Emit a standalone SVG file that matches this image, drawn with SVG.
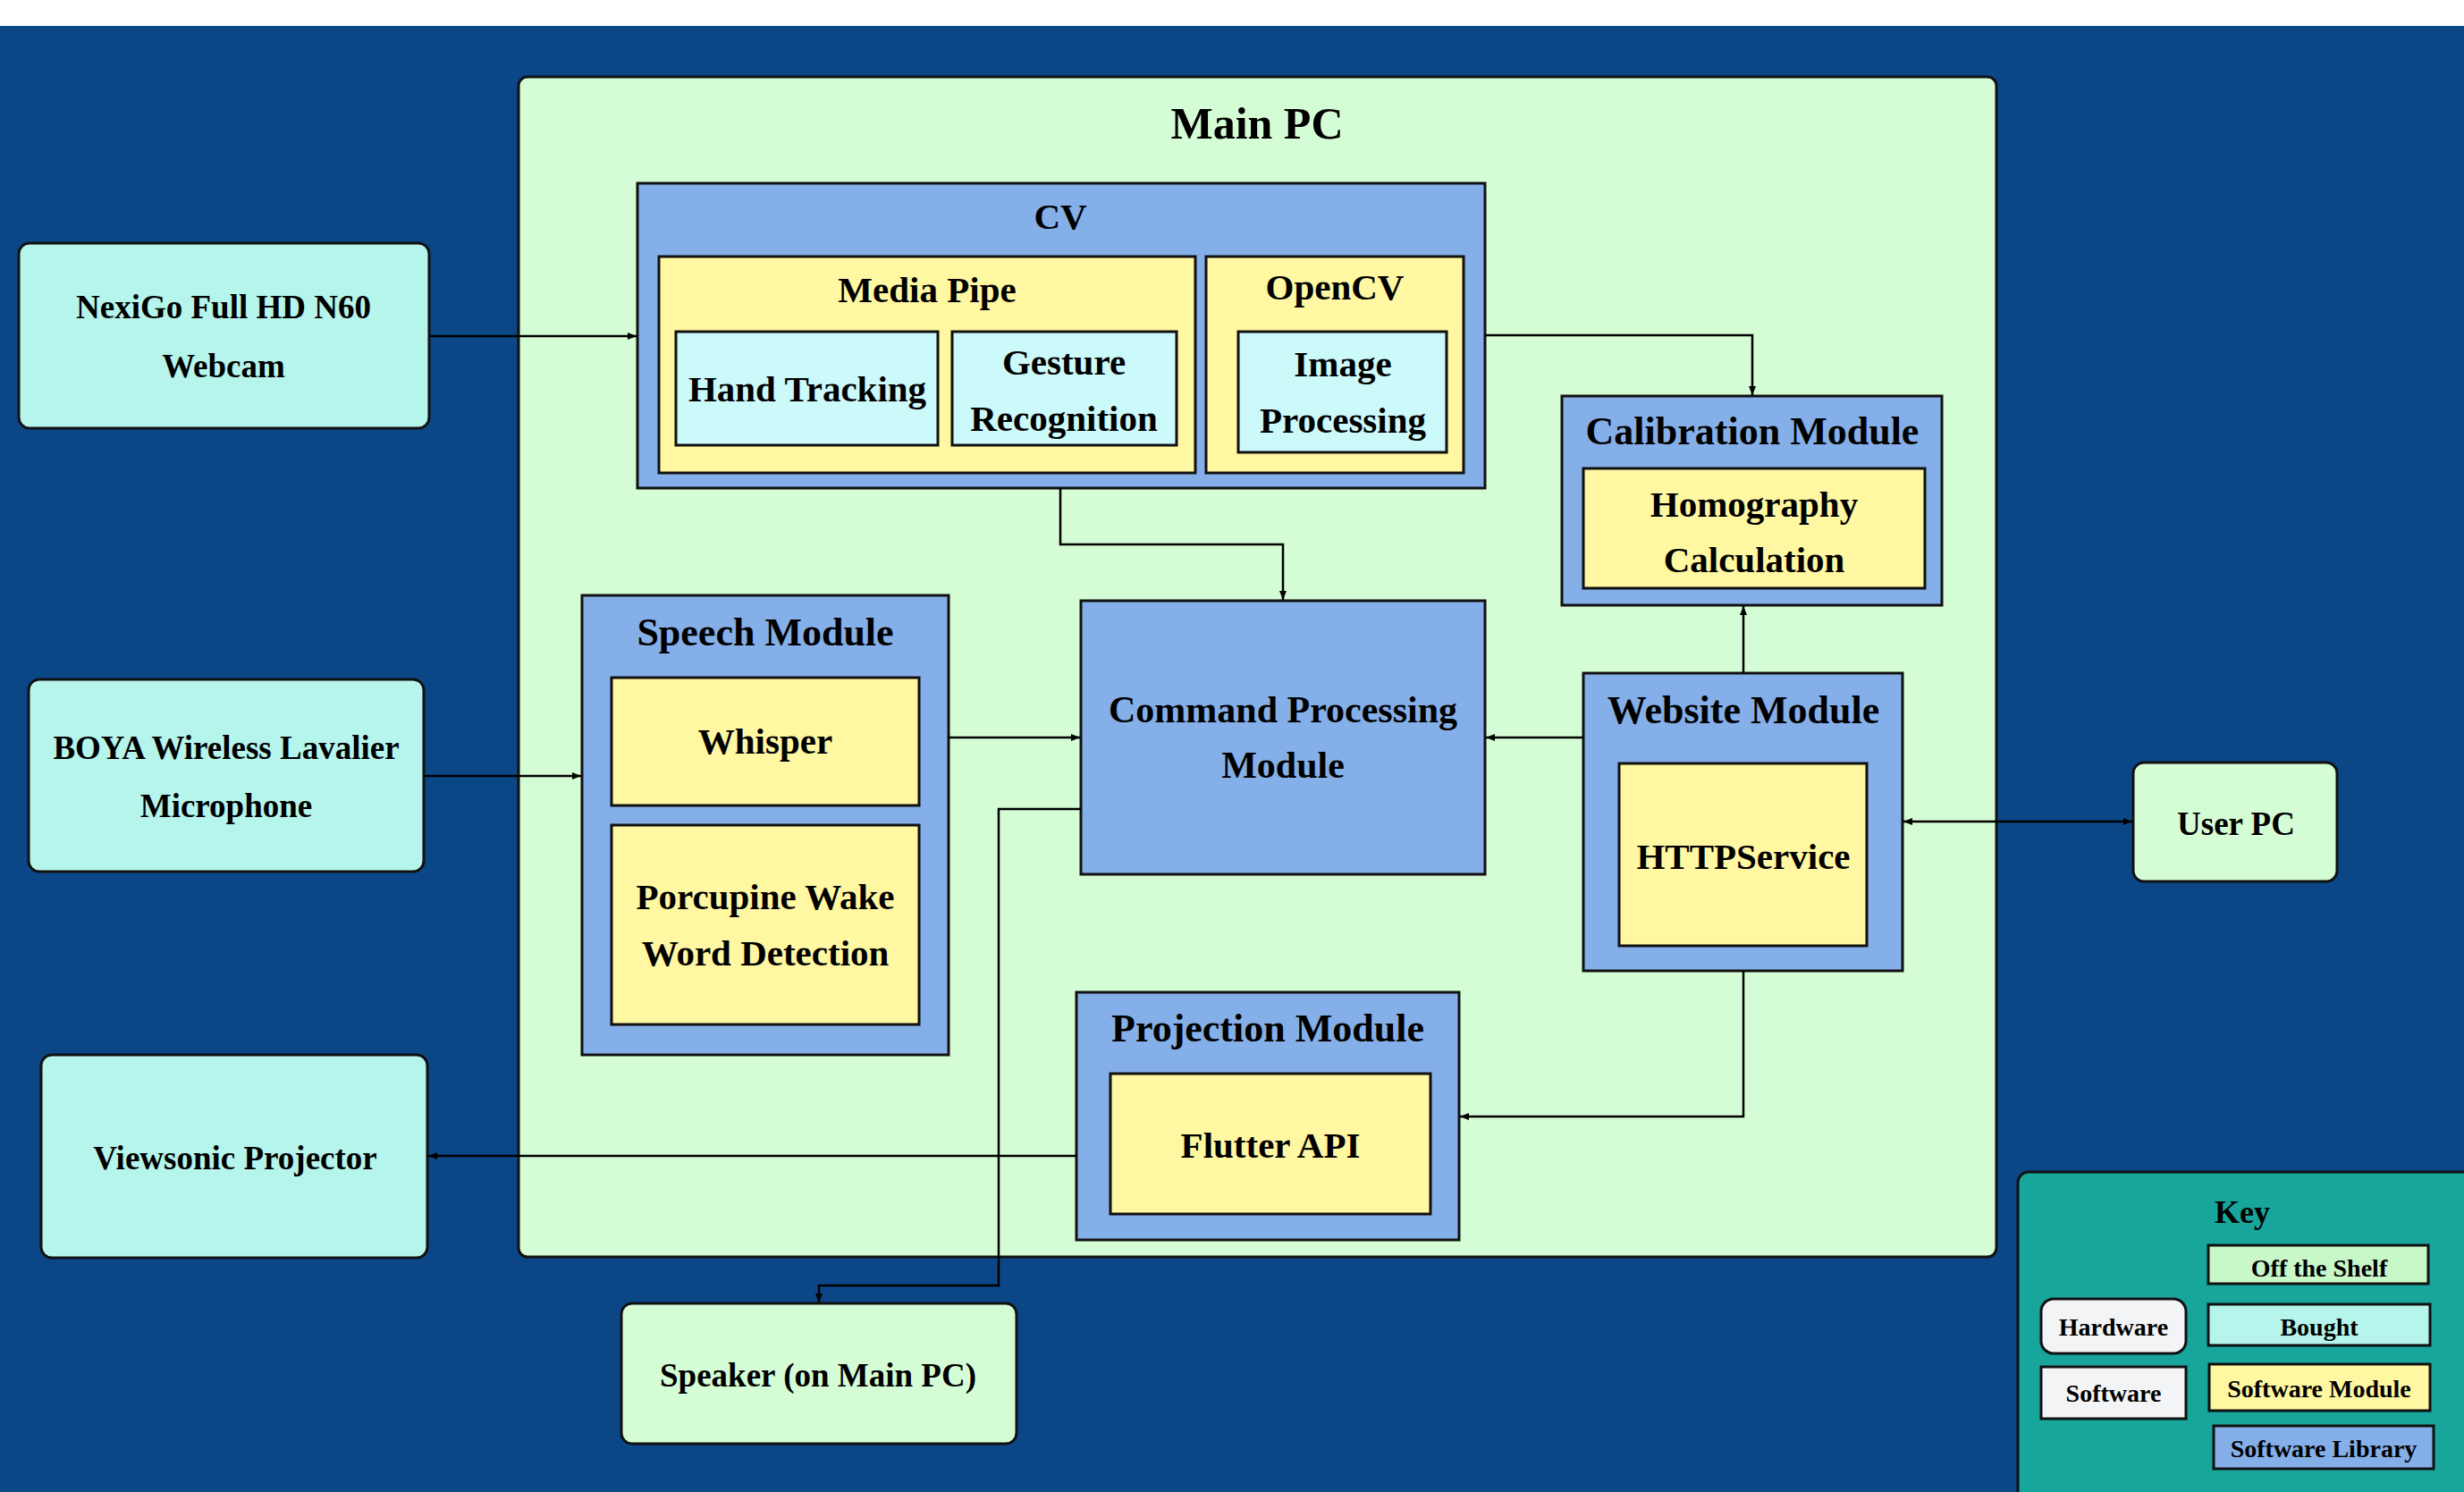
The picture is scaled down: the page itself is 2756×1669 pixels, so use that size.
<svg xmlns="http://www.w3.org/2000/svg" width="2756" height="1669" viewBox="0 0 2756 1669">
<defs>
<style>
text{font-family:"Liberation Serif","DejaVu Serif",serif;font-weight:bold;fill:#000;text-anchor:middle}
.box{stroke:#111;stroke-width:3}
.green{fill:#D5FDD5}
.lib{fill:#85AFE8}
.mod{fill:#FFF7A1}
.inner{fill:#CCF9FA}
.bought{fill:#B5F5EB}
.soft{fill:#F3F4F6}
.t50{font-size:50px}
.t44{font-size:44px}
.t42{font-size:42px}
.t41{font-size:41px}
.t37{font-size:37px}
.t27{font-size:28px}
.conn{fill:none;stroke:#000;stroke-width:2.5}
</style>
<marker id="arr" viewBox="0 0 10 8" refX="10" refY="4" markerWidth="10" markerHeight="8" markerUnits="userSpaceOnUse" orient="auto-start-reverse">
<path d="M0,0 L10,4 L0,8 z" fill="#000"/>
</marker>
</defs>

<rect x="0" y="0" width="2756" height="1669" fill="#FFFFFF"/>
<rect x="0" y="29" width="2756" height="1640" fill="#0B4787"/>

<g id="main-pc">
<rect class="box green" x="580" y="86" width="1653" height="1320" rx="10"/>
<text class="t50" x="1406" y="155">Main PC</text>
</g>

<g id="cv">
<rect class="box lib" x="713" y="205" width="948" height="341"/>
<text class="t41" x="1186" y="256">CV</text>
</g>
<g id="media-pipe">
<rect class="box mod" x="737" y="287" width="600" height="242"/>
<text class="t41" x="1037" y="338">Media Pipe</text>
</g>
<g id="hand-tracking">
<rect class="box inner" x="756" y="371" width="293" height="127"/>
<text class="t41" x="903" y="449">Hand Tracking</text>
</g>
<g id="gesture-recognition">
<rect class="box inner" x="1065" y="371" width="251" height="127"/>
<text class="t41" x="1190" y="419">Gesture</text>
<text class="t41" x="1190" y="482">Recognition</text>
</g>
<g id="opencv">
<rect class="box mod" x="1349" y="287" width="288" height="242"/>
<text class="t41" x="1493" y="335">OpenCV</text>
</g>
<g id="image-processing">
<rect class="box inner" x="1385" y="371" width="233" height="135"/>
<text class="t41" x="1502" y="421">Image</text>
<text class="t41" x="1502" y="484">Processing</text>
</g>

<g id="calibration-module">
<rect class="box lib" x="1747" y="443" width="425" height="234"/>
<text class="t44" x="1960" y="497">Calibration Module</text>
</g>
<g id="homography">
<rect class="box mod" x="1771" y="524" width="382" height="134"/>
<text class="t41" x="1962" y="578">Homography</text>
<text class="t41" x="1962" y="640">Calculation</text>
</g>

<g id="speech-module">
<rect class="box lib" x="651" y="666" width="410" height="514"/>
<text class="t44" x="856" y="722">Speech Module</text>
</g>
<g id="whisper">
<rect class="box mod" x="684" y="758" width="344" height="143"/>
<text class="t41" x="856" y="843">Whisper</text>
</g>
<g id="porcupine">
<rect class="box mod" x="684" y="923" width="344" height="223"/>
<text class="t41" x="856" y="1017">Porcupine Wake</text>
<text class="t41" x="856" y="1080">Word Detection</text>
</g>

<g id="command-processing">
<rect class="box lib" x="1209" y="672" width="452" height="306"/>
<text class="t42" x="1435" y="808">Command Processing</text>
<text class="t42" x="1435" y="870">Module</text>
</g>

<g id="website-module">
<rect class="box lib" x="1771" y="753" width="357" height="333"/>
<text class="t44" x="1950" y="809">Website Module</text>
</g>
<g id="httpservice">
<rect class="box mod" x="1811" y="854" width="277" height="204"/>
<text class="t41" x="1950" y="972">HTTPService</text>
</g>

<g id="projection-module">
<rect class="box lib" x="1204" y="1110" width="428" height="277"/>
<text class="t44" x="1418" y="1165">Projection Module</text>
</g>
<g id="flutter-api">
<rect class="box mod" x="1242" y="1201" width="358" height="157"/>
<text class="t41" x="1421" y="1295">Flutter API</text>
</g>

<g id="webcam">
<rect class="box bought" x="21" y="272" width="459" height="207" rx="12"/>
<text class="t37" x="250" y="356">NexiGo Full HD N60</text>
<text class="t37" x="250" y="422">Webcam</text>
</g>
<g id="microphone">
<rect class="box bought" x="32" y="760" width="442" height="215" rx="12"/>
<text class="t37" x="253" y="849">BOYA Wireless Lavalier</text>
<text class="t37" x="253" y="914">Microphone</text>
</g>
<g id="projector">
<rect class="box bought" x="46" y="1180" width="432" height="227" rx="12"/>
<text class="t37" x="263" y="1308">Viewsonic Projector</text>
</g>
<g id="speaker">
<rect class="box green" x="695" y="1458" width="442" height="157" rx="12"/>
<text class="t37" x="915" y="1551">Speaker (on Main PC)</text>
</g>
<g id="user-pc">
<rect class="box green" x="2386" y="853" width="228" height="133" rx="12"/>
<text class="t37" x="2501" y="934">User PC</text>
</g>

<g id="key">
<rect class="box" fill="#17A59C" x="2257" y="1311" width="520" height="380" rx="12"/>
<text x="2508" y="1368" style="font-size:36px">Key</text>
<rect class="box" fill="#C8F7C8" x="2470" y="1393" width="246" height="43"/>
<text class="t27" x="2594" y="1428">Off the Shelf</text>
<rect class="box bought" x="2470" y="1459" width="248" height="46"/>
<text class="t27" x="2594" y="1494">Bought</text>
<rect class="box mod" x="2471" y="1526" width="247" height="52"/>
<text class="t27" x="2594" y="1563">Software Module</text>
<rect class="box lib" x="2476" y="1595" width="246" height="48"/>
<text class="t27" x="2599" y="1630">Software Library</text>
<rect class="box soft" x="2283" y="1453" width="162" height="61" rx="14"/>
<text class="t27" x="2364" y="1494">Hardware</text>
<rect class="box soft" x="2283" y="1529" width="162" height="58"/>
<text class="t27" x="2364" y="1568">Software</text>
</g>

<g id="connectors">
<path class="conn" d="M480,376 H712" marker-end="url(#arr)"/>
<path class="conn" d="M1661,375 H1960 V442" marker-end="url(#arr)"/>
<path class="conn" d="M1186,546 V609 H1435 V671" marker-end="url(#arr)"/>
<path class="conn" d="M474,868 H650" marker-end="url(#arr)"/>
<path class="conn" d="M1061,825 H1208" marker-end="url(#arr)"/>
<path class="conn" d="M1771,825 H1662" marker-end="url(#arr)"/>
<path class="conn" d="M1950,753 V678" marker-end="url(#arr)"/>
<path class="conn" d="M2129,919 H2385" marker-start="url(#arr)" marker-end="url(#arr)"/>
<path class="conn" d="M1950,1086 V1249 H1633" marker-end="url(#arr)"/>
<path class="conn" d="M1204,1293 H479" marker-end="url(#arr)"/>
<path class="conn" d="M1209,905 H1117 V1438 H916 V1457" marker-end="url(#arr)"/>
</g>
</svg>
